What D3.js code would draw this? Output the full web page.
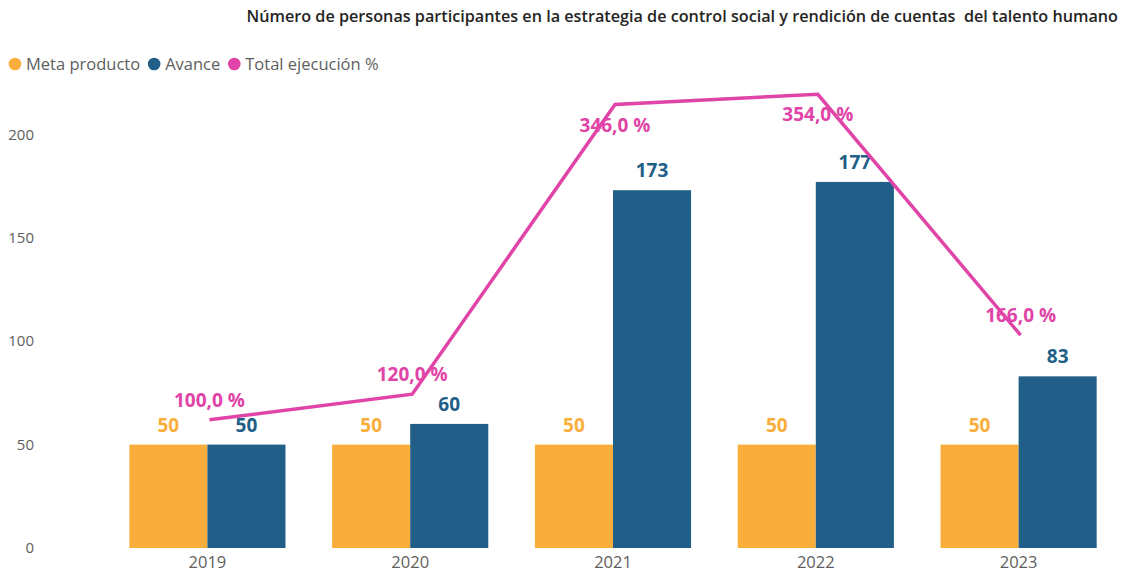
<!DOCTYPE html>
<html>
<head>
<meta charset="utf-8">
<script src="https://cdn.jsdelivr.net/npm/d3@7"></script>
<style>
  body { margin: 0; background: #fff; }
  text { font-family: "Open Sans", "Noto Sans", sans-serif; }
</style>
</head>
<body>
<svg id="chart" width="1125" height="575"></svg>
<script>
// ---- data ----
const years = ["2019", "2020", "2021", "2022", "2023"];
const metaProducto = [50, 50, 50, 50, 50];
const avance = [50, 60, 173, 177, 83];
const ejecucion = [100, 120, 346, 354, 166];
const yTicks = [0, 50, 100, 150, 200];
const seriesNames = ["Meta producto", "Avance", "Total ejecución %"];
const title = "Número de personas participantes en la estrategia de control social y rendición de cuentas  del talento humano";

const colors = ["#F9AE3C", "#215F88", "#E044A7"];

// ---- svg / scales ----
const svg = d3.select("#chart");
const plotTop = 93, plotBottom = 548;

const x = d3.scaleBand().domain(years).range([106, 1120]).paddingInner(0.23).paddingOuter(0.115);
const x1 = d3.scaleBand().domain([0, 1]).range([0, x.bandwidth()]);
const y = d3.scaleLinear().domain([0, 220]).range([plotBottom, plotTop]);
const y2 = d3.scaleLinear().domain([0, 355]).range([plotBottom, plotTop]);

// title
svg.append("text")
  .attr("x", 1118).attr("y", 22)
  .attr("text-anchor", "end")
  .attr("font-size", 16.2).attr("font-weight", 600)
  .attr("fill", "#252423")
  .style("white-space", "pre")
  .text(title);

// legend
let lx = 15;
seriesNames.forEach(function(name, i) {
  svg.append("circle").attr("cx", lx).attr("cy", 64).attr("r", 6.3).attr("fill", colors[i]);
  const t = svg.append("text")
    .attr("x", lx + 11).attr("y", 69.8)
    .attr("font-size", 16.5).attr("fill", "#605E5C")
    .text(name);
  lx += 11 + t.node().getComputedTextLength() + 14;
});

// y axis (no line, no grid)
const yAxis = svg.append("g")
  .attr("transform", "translate(34,0)")
  .call(d3.axisLeft(y).tickValues(yTicks).tickSize(0).tickPadding(0));
yAxis.select(".domain").remove();
yAxis.selectAll("text")
  .attr("font-size", 15).attr("fill", "#605E5C")
  .style("font-family", "'Open Sans', sans-serif");

// x axis
const xAxis = svg.append("g")
  .attr("transform", "translate(0," + plotBottom + ")")
  .call(d3.axisBottom(x).tickSize(0).tickPadding(8));
xAxis.select(".domain").remove();
xAxis.selectAll("text")
  .attr("font-size", 16.5).attr("fill", "#605E5C")
  .style("font-family", "'Open Sans', sans-serif");

// bars
const barSeries = [metaProducto, avance];
barSeries.forEach(function(vals, s) {
  const g = svg.append("g");
  g.selectAll("rect")
    .data(vals)
    .enter().append("rect")
    .attr("x", function(d, i) { return x(years[i]) + x1(s); })
    .attr("y", function(d) { return y(d); })
    .attr("width", x1.bandwidth())
    .attr("height", function(d) { return y(0) - y(d); })
    .attr("fill", colors[s]);
  g.selectAll("text")
    .data(vals)
    .enter().append("text")
    .attr("x", function(d, i) { return x(years[i]) + x1(s) + x1.bandwidth() / 2; })
    .attr("y", function(d) { return y(d) - 13; })
    .attr("text-anchor", "middle")
    .attr("font-size", 19).attr("font-weight", 700)
    .attr("fill", colors[s])
    .text(function(d) { return d; });
});

// line
const line = d3.line()
  .x(function(d, i) { return x(years[i]) + x.bandwidth() / 2 + 2; })
  .y(function(d) { return y2(d); });

svg.append("path")
  .datum(ejecucion)
  .attr("d", line)
  .attr("fill", "none")
  .attr("stroke", colors[2])
  .attr("stroke-width", 3.5);

svg.append("g").selectAll("text")
  .data(ejecucion)
  .enter().append("text")
  .attr("x", function(d, i) { return x(years[i]) + x.bandwidth() / 2 + 2; })
  .attr("y", function(d) {
    const py = y2(d);
    return (py - 30 > plotTop) ? py - 13 : py + 27;
  })
  .attr("text-anchor", "middle")
  .attr("font-size", 19).attr("font-weight", 700)
  .attr("fill", colors[2])
  .text(function(d) { return d3.format(".1f")(d).replace(".", ",") + " %"; });
</script>
</body>
</html>
